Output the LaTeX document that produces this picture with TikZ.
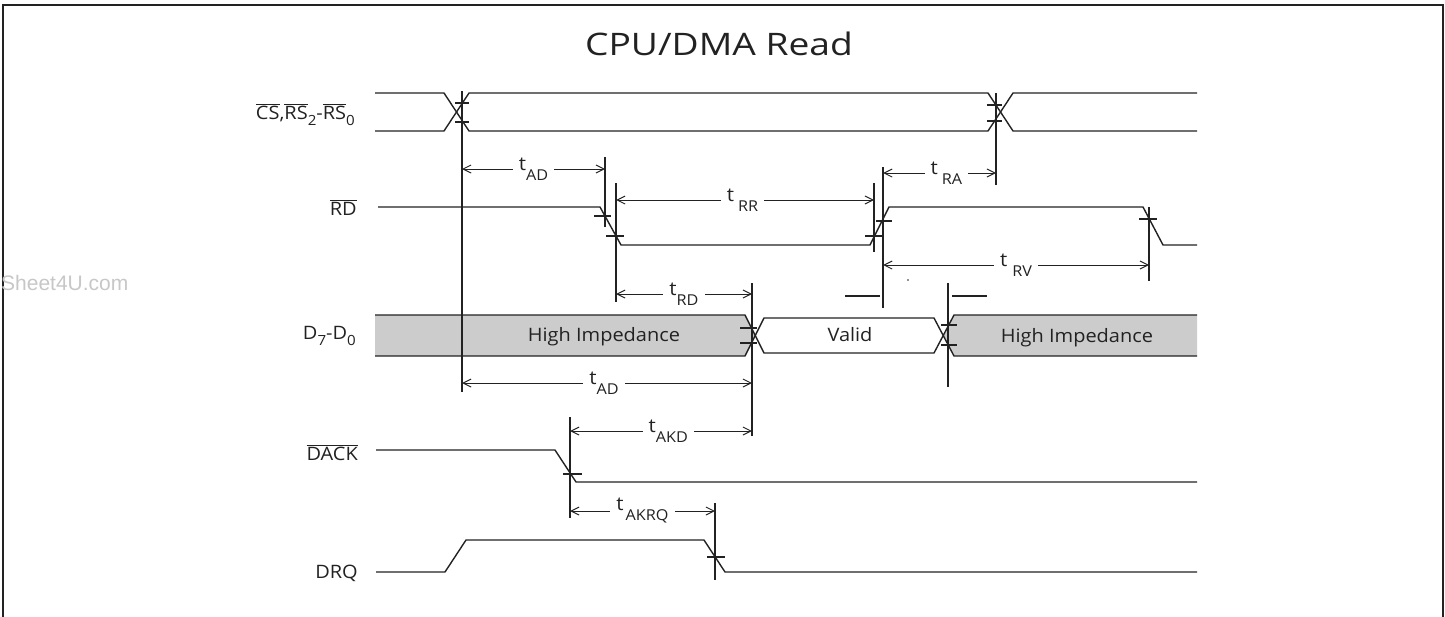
\documentclass[tikz,border=0pt]{standalone}
\usepackage{fontspec}
\setmainfont{Open Sans}[FakeStretch=1.08]
\newfontfamily\titlefont{Open Sans}[FakeStretch=1.2]
\newfontfamily\wmfont{Liberation Sans}
\usetikzlibrary{arrows.meta}
\definecolor{ink}{HTML}{222222}
\definecolor{busgray}{HTML}{CCCCCC}
\newcommand\ovl[1]{$\overline{\hbox{#1}}$}
\newcommand\sbs[1]{\raisebox{-6pt}{\fontsize{14}{14}\selectfont #1}}
\newcommand\tlab[2]{t\kern#2\raisebox{-10pt}{\fontsize{15}{15}\selectfont #1}}
\tikzset{
  sig/.style={draw=ink, line width=1.4pt, line join=round},
  vline/.style={draw=ink, line width=1.1pt},
  tick/.style={draw=ink, line width=1.1pt},
  dim/.style={draw=ink, line width=1pt, {Straight Barb[length=8pt,width=8pt]}-{Straight Barb[length=8pt,width=8pt]}},
  lab/.style={fill=white, inner xsep=6pt, inner ysep=1pt, font=\fontsize{19}{19}\selectfont, text=ink},
  sname/.style={anchor=base east, font=\fontsize{18.5}{18.5}\selectfont, text=ink, inner sep=0pt},
  bustext/.style={anchor=base, font=\fontsize{18.5}{18.5}\selectfont, text=ink, inner sep=0pt},
}
\begin{document}
\begin{tikzpicture}[x=1pt,y=-1pt]
\useasboundingbox (0,0) rectangle (1445,616);
% frame
\draw[ink, line width=1.6pt] (3,617) -- (3,5) -- (1443,5) -- (1443,617);
% title
\node[anchor=base, inner sep=0pt, font=\titlefont\fontsize{31}{31}\selectfont, text=ink] (title) at (719,55) {CPU/DMA Read};
% watermark
\node[anchor=base west, inner sep=0pt, font=\wmfont\fontsize{21}{21}\selectfont, text=black!22] (wm) at (1,290) {Sheet4U.com};

% signal names
\node[sname] (ncs) at (355,119) {\ovl{CS},\ovl{RS}\sbs{2}-\ovl{RS}\sbs{0}};
\node[sname] (nrd) at (357,215) {\ovl{RD}};
\node[sname] (nd) at (356,339) {D\sbs{7}-D\sbs{0}};
\node[sname] (ndack) at (358,460) {\ovl{DACK}};
\node[sname] (ndrq) at (358,578) {DRQ};

% CS / RS
\draw[sig] (375,93) -- (444,93) -- (469,131) -- (988,131) -- (1013,93) -- (1197,93);
\draw[sig] (375,131) -- (444,131) -- (469,93) -- (988,93) -- (1013,131) -- (1197,131);
\draw[tick] (455,103) -- (469,103) (455,122) -- (469,122);
\draw[tick] (987,105) -- (1002,105) (987,121) -- (1002,121);

% RD
\draw[sig] (378,207) -- (600,207) -- (621,245) -- (870,245) -- (889,207) -- (1143,207) -- (1163,245) -- (1197,245);
\draw[tick] (594,216) -- (611,216);
\draw[tick] (606,236) -- (624,236);
\draw[tick] (865,236) -- (882,236);
\draw[tick] (876,221) -- (892,221);
\draw[tick] (1139,219) -- (1157,219);

% D7-D0 bus
\fill[busgray] (375,315) -- (745,315) -- (754.5,335.5) -- (745,356) -- (375,356) -- cycle;
\fill[busgray] (944,335.5) -- (954,315) -- (1197,315) -- (1197,356) -- (954,356) -- cycle;
\draw[sig] (375,315) -- (745,315) -- (764,353) -- (934,353) -- (954,315) -- (1197,315);
\draw[sig] (375,356) -- (745,356) -- (764,318) -- (934,318) -- (954,356) -- (1197,356);
\draw[tick] (740,328) -- (757,328) (740,343) -- (757,343);
\draw[tick] (941,325) -- (957,325) (941,345) -- (957,345);
\node[bustext] (hi1) at (604,341) {High Impedance};
\node[bustext] (valid) at (850,341) {Valid};
\node[bustext] (hi2) at (1077,342) {High Impedance};

% DACK
\draw[sig] (376,450) -- (555,450) -- (576,482) -- (1197,482);
\draw[tick] (563,474) -- (582,474);

% DRQ
\draw[sig] (376,572) -- (445,572) -- (466,540) -- (704,540) -- (725,572) -- (1197,572);
\draw[tick] (707,557) -- (725,557);

% reference verticals
\draw[vline] (462,91) -- (462,392);
\draw[vline] (996,93) -- (996,185);
\draw[vline] (605,157) -- (605,227);
\draw[vline] (616,183) -- (616,302);
\draw[vline] (874,183) -- (874,252);
\draw[vline] (883,167) -- (883,308);
\draw[vline] (1149,207) -- (1149,281);
\draw[vline] (752,283) -- (752,436);
\draw[vline] (948,283) -- (948,387);
\draw[vline] (570,417) -- (570,518);
\draw[vline] (715,503) -- (715,580);
\draw[vline] (845,296) -- (880,296) (952,296) -- (987,296);
\fill[ink] (908,280) circle (0.8);

% timing arrows
\draw[dim] (462,169) -- node[lab, pos=0.5, xshift=0pt] (tad1) {\tlab{AD}{0pt}} (605,169);
\draw[dim] (616,200) -- node[lab, pos=0.49] (trr) {\tlab{RR}{4pt}} (874,200);
\draw[dim] (883,173) -- node[lab, pos=0.56] (tra) {\tlab{RA}{4pt}} (996,173);
\draw[dim] (883,265) -- node[lab, pos=0.5] (trv) {\tlab{RV}{5pt}} (1149,265);
\draw[dim] (616,294) -- node[lab, pos=0.5] (trd) {\tlab{RD}{0pt}} (752,294);
\draw[dim] (462,383) -- node[lab, pos=0.49] (tad2) {\tlab{AD}{0pt}} (752,383);
\draw[dim] (570,431) -- node[lab, pos=0.54] (takd) {\tlab{AKD}{0pt}} (752,431);
\draw[dim] (570,511) -- node[lab, pos=0.5] (takrq) {\tlab{AKRQ}{2pt}} (715,511);
\end{tikzpicture}
\end{document}
